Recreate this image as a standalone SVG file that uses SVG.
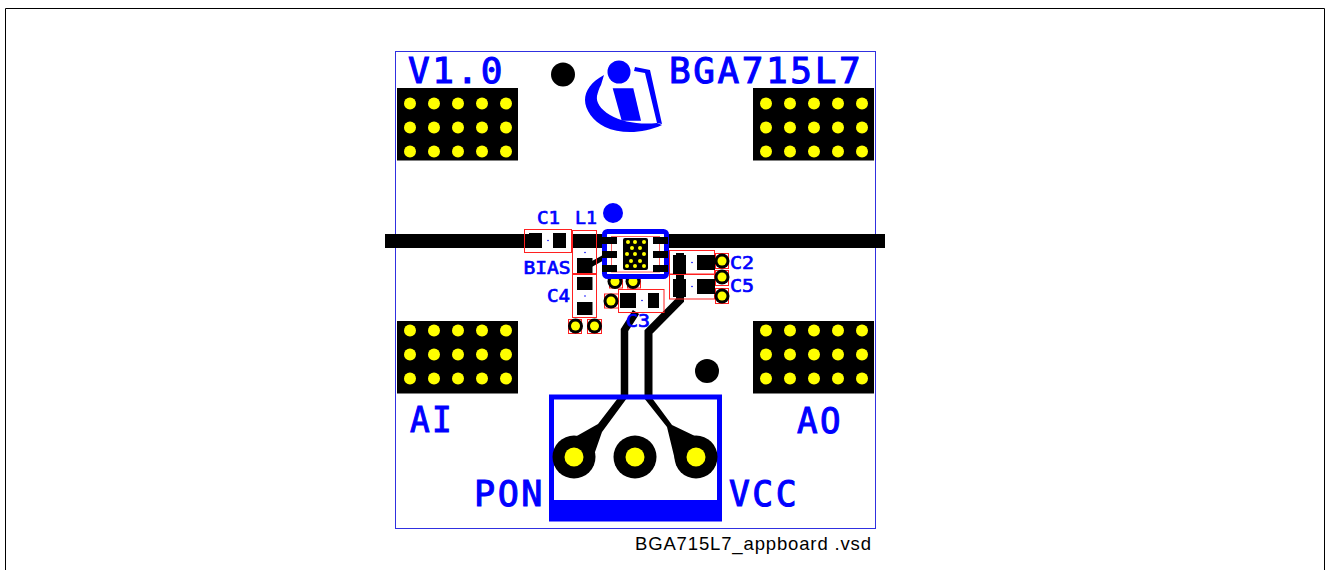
<svg xmlns="http://www.w3.org/2000/svg" width="1329" height="570" viewBox="0 0 1329 570">
<style>
.b{fill:#0000ff}
.k{fill:#000}
.y{fill:#ffff00}
.t{font-family:"DejaVu Sans Mono","Liberation Mono",monospace;fill:#0000ff;stroke:#0000ff}
.l{font-size:36px;stroke-width:1.1;letter-spacing:2.6px}
.m{font-size:18px;stroke-width:.7}
.r{fill:none;stroke:#ff2020;stroke-width:1}
.tr{fill:none;stroke:#000;stroke-linejoin:miter}
</style>
<defs>
<rect id="blk" width="121" height="72.500" class="k"/>
<g id="dots" class="y">
<circle cx="13" cy="0" r="6"/><circle cx="37" cy="0" r="6"/><circle cx="61" cy="0" r="6"/><circle cx="85" cy="0" r="6"/><circle cx="109" cy="0" r="6"/>
<circle cx="13" cy="24" r="6"/><circle cx="37" cy="24" r="6"/><circle cx="61" cy="24" r="6"/><circle cx="85" cy="24" r="6"/><circle cx="109" cy="24" r="6"/>
<circle cx="13" cy="48" r="6"/><circle cx="37" cy="48" r="6"/><circle cx="61" cy="48" r="6"/><circle cx="85" cy="48" r="6"/><circle cx="109" cy="48" r="6"/>
</g>
<g id="via"><circle r="7.500" class="k"/><circle r="4.500" class="y"/></g>
<circle id="dot" r="0.800" class="b"/>
</defs>
<rect width="1329" height="570" fill="#fff"/>
<path d="M5.500 570V8.500H1324.500V570" fill="none" stroke="#000" stroke-width="1"/>
<rect id="board" x="395.500" y="51.500" width="480" height="477" fill="#fff" stroke="#3030e0" stroke-width="1"/>

<g id="connectors">
<path class="k" d="M385 234H529V248H385ZM572 234H608V248H572ZM664 234H885V248H664Z"/>
<path class="tr" stroke-width="5" d="M590 265L610 254"/>
<path class="tr" stroke-width="8" d="M680 253V300L648.500 332V398"/>
<path class="tr" stroke-width="7.500" d="M636 312L624.500 330V398"/>
<path class="k" d="M618 398H627L602 432L595 452L574 457L575 437L598 424Z"/>
<path class="k" d="M644 398H652L672 425L697 437L675 460L667 427Z"/>
</g>

<g id="H1"><use href="#blk" x="397" y="88"/><use href="#dots" x="397" y="103.500"/></g>
<g id="H2"><use href="#blk" x="753" y="88"/><use href="#dots" x="753" y="103.500"/></g>
<g id="H3"><use href="#blk" x="397" y="321"/><use href="#dots" x="397" y="330.500"/></g>
<g id="H4"><use href="#blk" x="753" y="321"/><use href="#dots" x="753" y="330.500"/></g>

<g id="logo">
<circle cx="563" cy="74.500" r="12" class="k"/>
<circle cx="619" cy="72" r="11.500" class="b"/>
<path class="b" d="M612.700 88.300H633.300L641 120.700H621.700Z"/>
<path class="b" d="M604 75C591 82 585 91 585 100C585 110 593 121 605 127C620 134 643 134 662 125L657 123C640 125 622 122 610 115C600 109 596 102 597 96C598 92 599 88 601 85Z"/>
<path class="b" d="M635 67L650 70L662 124L657 123L645 73L634 71Z"/>
</g>

<g id="fiducials">
<circle cx="707" cy="371" r="12" class="k"/>
<circle cx="613" cy="213" r="10" class="b"/>
</g>

<g id="C1"><rect x="524.500" y="229.500" width="47" height="23" class="r"/><rect x="529" y="233" width="13" height="15" class="k"/><rect x="553" y="233" width="13" height="15" class="k"/><use href="#dot" x="548" y="240.500"/></g>
<g id="L1"><rect x="572.500" y="230.500" width="24" height="43" class="r"/><rect x="577" y="258" width="15.500" height="15" class="k"/><use href="#dot" x="585" y="252.500"/></g>
<g id="C4"><rect x="572.500" y="274.500" width="24" height="43" class="r"/><rect x="577" y="277" width="15.500" height="13" class="k"/><rect x="577" y="302" width="15.500" height="13" class="k"/><use href="#dot" x="585" y="296"/></g>
<g id="V1"><rect x="568.500" y="319.500" width="13" height="14" class="r"/><use href="#via" x="575.500" y="326"/></g>
<g id="V2"><rect x="587.500" y="319.500" width="14" height="14" class="r"/><use href="#via" x="594.500" y="326"/></g>

<g id="C2"><rect x="669.500" y="250.500" width="45" height="23.500" class="r"/><rect x="673" y="255" width="13" height="19" class="k"/><rect x="697" y="255" width="18" height="15" class="k"/><use href="#dot" x="692" y="262.500"/></g>
<g id="C5"><rect x="669.500" y="274.500" width="45" height="24.500" class="r"/><rect x="673" y="279" width="13" height="18" class="k"/><rect x="697" y="279" width="18" height="15" class="k"/><use href="#dot" x="692" y="286.500"/></g>
<g id="C3"><rect x="618.500" y="289.500" width="45.500" height="23" class="r"/><rect x="620" y="293" width="16" height="15" class="k"/><rect x="648" y="293" width="11" height="15" class="k"/><use href="#dot" x="642" y="300.500"/></g>

<g id="vias">
<rect x="715.500" y="253.500" width="13" height="15" class="r"/><use href="#via" x="722" y="261"/>
<rect x="715.500" y="270.500" width="13" height="15" class="r"/><use href="#via" x="722" y="277"/>
<rect x="715.500" y="288.500" width="13" height="15" class="r"/><use href="#via" x="722" y="296"/>
<rect x="604.500" y="294" width="14" height="14" class="r"/><use href="#via" x="611" y="301"/>
<rect x="609.500" y="276" width="13" height="12" class="r"/><rect x="627.500" y="276" width="13" height="12" class="r"/>
<use href="#via" x="615" y="281.500"/><use href="#via" x="633" y="281.500"/>
</g>

<g id="U1">
<rect x="604.500" y="231.500" width="62" height="45" rx="3" fill="#fff" stroke="#0000ff" stroke-width="5"/>
<rect x="611.500" y="236.500" width="48" height="35.500" fill="none" stroke="#ff6060"/>
<rect x="602" y="237" width="15" height="7" class="k"/><rect x="602" y="251" width="15" height="7" class="k"/><rect x="602" y="265" width="15" height="7" class="k"/>
<rect x="653" y="237" width="15" height="7" class="k"/><rect x="653" y="251" width="15" height="7" class="k"/><rect x="653" y="265" width="15" height="7" class="k"/>
<rect x="623" y="238" width="25" height="32" rx="2" class="k"/>
<g class="y">
<circle cx="628" cy="242" r="2"/><circle cx="635" cy="242" r="2"/><circle cx="644" cy="242" r="2"/>
<circle cx="632" cy="248" r="2"/><circle cx="640" cy="248" r="2"/>
<circle cx="627" cy="254" r="2"/><circle cx="635" cy="254" r="2"/><circle cx="644" cy="254" r="2"/>
<circle cx="631" cy="261" r="2"/><circle cx="640" cy="261" r="2"/>
<circle cx="627" cy="266" r="2"/><circle cx="635" cy="266" r="2"/><circle cx="644" cy="266" r="2"/>
</g>
</g>

<g id="J1">
<rect x="551.500" y="397" width="168" height="122" fill="none" stroke="#0000ff" stroke-width="5"/>
<rect x="553" y="500" width="165" height="19" class="b"/>
<circle cx="574" cy="457" r="21.500" class="k"/><circle cx="574" cy="457" r="9.500" class="y"/>
<circle cx="635" cy="457" r="21.500" class="k"/><circle cx="635" cy="457" r="9.500" class="y"/>
<circle cx="696" cy="457" r="21.500" class="k"/><circle cx="696" cy="457" r="9.500" class="y"/>
</g>

<g id="labels">
<text class="t l" x="408" y="83">V1.0</text>
<text class="t l" x="669" y="83">BGA715L7</text>
<text class="t m" x="537" y="224" textLength="23" lengthAdjust="spacingAndGlyphs">C1</text>
<text class="t m" x="575" y="224" textLength="22" lengthAdjust="spacingAndGlyphs">L1</text>
<text class="t m" x="523.500" y="274" textLength="47" lengthAdjust="spacingAndGlyphs">BIAS</text>
<text class="t m" x="547" y="302" textLength="23" lengthAdjust="spacingAndGlyphs">C4</text>
<text class="t m" x="730" y="269" textLength="24" lengthAdjust="spacingAndGlyphs">C2</text>
<text class="t m" x="730" y="292" textLength="24" lengthAdjust="spacingAndGlyphs">C5</text>
<text class="t m" x="626" y="327" textLength="24" lengthAdjust="spacingAndGlyphs">C3</text>
<text class="t l" x="410" y="432" textLength="44" lengthAdjust="spacingAndGlyphs">AI</text>
<text class="t l" x="797" y="433" textLength="46" lengthAdjust="spacingAndGlyphs">AO</text>
<text class="t l" x="474" y="506" textLength="71" lengthAdjust="spacingAndGlyphs">PON</text>
<text class="t l" x="729" y="506" textLength="70" lengthAdjust="spacingAndGlyphs">VCC</text>
<text x="635" y="550" font-family="Liberation Sans,Arial,sans-serif" font-size="18.500" fill="#000" textLength="236">BGA715L7_appboard .vsd</text>
</g>
</svg>
